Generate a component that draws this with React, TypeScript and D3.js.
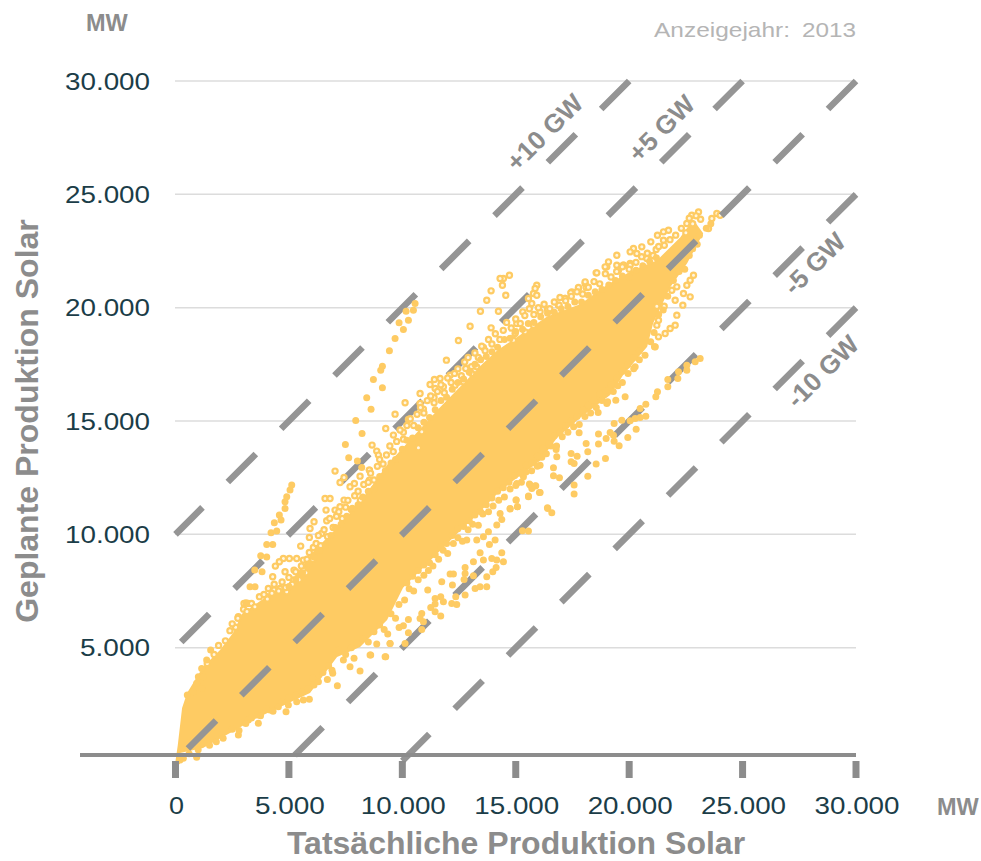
import React from "react";
import * as d3 from "d3";

const yearPrefix = "Anzeigejahr:";
const yearValue = "2013";
const xTitle = "Tatsächliche Produktion Solar";
const yTitle = "Geplante Produktion Solar";
const unit = "MW";
const xTicks = [0, 5000, 10000, 15000, 20000, 25000, 30000];
const yTicks = [5000, 10000, 15000, 20000, 25000, 30000];
const offsetLines = [
  { offset: 10000, label: "+10 GW" },
  { offset: 5000, label: "+5 GW" },
  { offset: -5000, label: "-5 GW" },
  { offset: -10000, label: "-10 GW" },
];

// Dense body of the cloud: outline in MW (actual, planned)
const coreUpper: [number, number][] = [[0,0],[100,700],[290,2340],[510,3000],[1213,4145],[1962,4895],[2536,5645],[2933,6500],[3859,7150],[4917,7700],[6064,9237],[7254,10419],[8445,11851],[9327,13054],[11664,15611],[13561,17552],[14178,18107],[16383,19607],[17838,20148],[19029,21012],[20175,21662],[21234,22094],[22248,23100],[22821,23890]];
const coreLower: [number, number][] = [[23263,23285],[22557,21962],[21808,20903],[21058,19316],[20794,18275],[19736,17034],[19162,16152],[17838,15138],[16824,14256],[16074,13242],[15060,12492],[14310,11919],[13296,10860],[12546,10155],[11355,8964],[10032,7641],[9327,6218],[8136,5027],[7122,4586],[5931,2999],[4608,2381],[3418,1808],[2403,1235],[1213,573],[198,353],[200,-150]];

// Individually legible points (MW)
const upperStreak: [number, number][] = [[5124,12172],[5049,11951],[4904,11656],[4829,11435],[4829,11144],[4578,10849],[4653,10628],[4357,10509],[4212,10068],[4463,10143],[4022,9556],[4287,9556],[3757,9054],[4022,8996],[3493,8423],[3815,8348],[3285,7687],[3506,7687],[3109,6981],[10562,20183],[10488,19889],[10165,19845],[10268,19448],[9856,19330],[10047,19036],[9680,18640],[9430,18096],[9121,17419],[9047,17243],[8724,16831],[9121,16464],[8430,16023],[8621,15523],[7945,15023],[8224,14450],[7489,13965],[7636,13377],[8018,13230],[8210,12951]];
const upperCluster: [number, number][] = [[7034,12789],[7430,12510],[7254,12289],[7695,12098],[7886,12245],[8548,12833],[8136,12568],[8548,12392],[6593,11584],[6813,11584],[6637,11069],[7034,11069],[7254,11216],[7430,11510],[6107,10555],[5931,10260],[5902,9864],[5519,9481],[6666,10599],[6446,10040],[6078,9423],[5637,8864],[5343,8937],[4755,8937],[5020,8937],[4578,8790],[4402,8599],[4829,8350],[5225,8423],[5637,8423],[4285,8129],[5196,7982],[4094,7614],[4343,7541],[4608,7614],[4902,7467],[4020,7247],[2771,6365],[3020,6953],[3212,6953],[14722,21432],[14457,21286],[14310,21286],[14413,20991],[14560,20550],[13913,20742],[13722,20330],[13443,19845],[14237,19845],[12987,19183],[13913,19110],[12473,18551],[13575,18243],[11943,17684],[12796,17316],[12105,17023],[11664,16875],[11414,16831],[11223,16611],[11811,16508],[10782,16214],[11399,16038],[10121,15802],[10782,15773],[10929,15523],[9680,15303],[9268,14670],[10268,15067],[10047,14509],[8665,13936],[8871,13671],[8945,13495],[9606,14377],[8548,12833],[10709,13818],[10856,14524],[15927,20991],[15854,20844],[15780,20624],[15927,20550],[15560,20403],[15707,20183],[15310,19816],[15045,19301],[15413,18933],[15780,19228],[14972,18860],[14898,18566],[13281,17390],[13061,17096],[12693,16728],[12326,16581],[11444,16435],[16074,19816],[16442,19889],[16883,20109],[17177,20403],[17471,20698],[17765,20844],[18059,21065],[18544,21535],[19455,21873],[19749,21873],[20043,21947],[19014,21800]];
const topTip: [number, number][] = [[23057,24226],[22762,24078],[22542,23711],[23865,24152],[23645,23932],[23498,23491],[24012,24078],[21734,23417],[21513,23344],[21248,23197],[20954,22903],[20557,22682],[21513,22976],[21190,22564],[20778,22168],[20190,22609],[20043,22462],[20337,22388],[19455,22315],[19088,22021],[18941,21800],[18573,21535],[19749,21874],[20043,21874],[19529,21653],[18059,21139],[17765,20889],[17426,20653],[18103,20889],[17177,20403],[16912,20110],[16397,19918],[22836,21432],[22689,21212],[22542,20991],[22689,20477],[22395,20624],[22366,20110],[22101,19669],[21542,20065],[21219,20065],[21293,19448],[21219,19228],[22028,19228],[21807,19080],[21587,18860],[21293,18713],[21146,18272],[22028,20330],[22101,20918],[21881,20771]];
const lowerStreak: [number, number][] = [[23130,17757],[22910,17610],[22542,17463],[22542,17243],[22175,17170],[22145,16875],[21704,16831],[21704,16508],[21248,16288],[21175,16067],[20734,15744],[20484,15553],[20734,15214],[20484,15156],[20264,15112],[20043,15009],[19676,15038],[19337,14891],[20308,14641],[19940,14274],[19337,14112],[19558,13906],[19161,14494],[19308,14376],[18647,14421],[18985,14229],[18647,13980],[18103,14009],[18176,13641],[18955,13347],[18544,13098],[17441,13568],[17706,13450],[17441,13201],[17573,13127],[18176,12568],[17573,12171],[17573,11775],[16662,12936],[16662,12583],[16927,12495],[16809,13421],[16780,13744],[17794,14479],[19822,16067],[19411,15920],[19014,15773],[18632,15376],[21116,18272],[20264,17390],[19896,17463],[16074,11848],[15883,12142],[15633,12171],[15707,12024],[15560,11657],[15016,11510],[15074,11216],[14751,11142],[16397,11172],[16589,10951],[16074,13053],[15339,12539],[15045,12245]];
const lowerCluster: [number, number][] = [[16045,11848],[15854,12127],[15604,12216],[15560,11686],[15074,11216],[15016,11510],[14751,11113],[16412,11142],[15295,10158],[15560,10143],[14310,10922],[14384,10657],[14163,10407],[14090,9746],[13796,10114],[13575,9893],[13281,9746],[12840,9746],[13840,9555],[13428,9187],[14384,9187],[13943,8937],[14457,8790],[14163,8864],[13575,8864],[13134,8790],[14134,8540],[13987,8350],[13722,8129],[13722,7688],[13428,7688],[13208,7614],[13134,8173],[12767,8540],[12767,8276],[12722,8002],[12767,7320],[12355,7247],[12208,7761],[11738,7908],[12105,8247],[12252,8247],[11120,7541],[11444,7173],[11693,7247],[11811,7026],[11444,6923],[11252,6776],[11444,6585],[11693,6394],[12399,6909],[12179,6953],[10856,6512],[10782,6291],[10929,6145],[10268,6247],[10047,5968],[9856,5894],[10268,5659],[10856,5806],[10121,5189],[9459,5189],[9356,5601],[8606,4675],[9268,4601]];
const lowEnd: [number, number][] = [[1550,4895],[1374,4454],[1154,4086],[1007,3719],[1227,3719],[933,3425],[1154,3204],[521,2910],[786,3058],[2771,1147],[3653,1661],[3212,1808],[3608,2029],[4167,2249],[4535,2396],[4873,2175],[4976,2469],[5343,2616],[5637,2690],[5902,2719],[6107,3352],[6695,3601],[7136,3322],[8136,3969],[7695,4160],[6931,3866],[7401,4454],[7871,4528],[8577,4674],[9239,4601],[9459,5189],[8871,5160],[933,162],[198,44],[345,118]];
const upperFringe: [number, number][] = [[1400,4300],[1700,4700],[1900,5100],[2200,5300],[2400,5750],[2650,5900],[2750,6300],[2500,6050],[3000,6700],[3150,6600],[3350,6950],[3500,6800],[3700,7250],[3900,7350],[4050,7150],[4250,7400],[4350,7800],[4550,7500],[4700,7900],[4850,7650],[5000,8100],[5150,7800],[5300,8350],[5450,8000],[5550,8600],[5750,8300],[5800,8900],[5900,9200],[6050,8900],[6200,9600],[6300,9950],[6400,9500],[6550,10200],[6700,9900],[6800,10700],[6950,10300],[7100,10800],[7200,11000],[7350,10700],[7500,11200],[7600,11500],[7750,11100],[7900,11700],[8050,11900],[8150,11500],[8300,12200],[8500,12300],[8600,12700],[8750,12400],[8900,13000],[9000,13300],[9150,13100],[9300,13500],[9450,13900],[9600,13650],[9750,14100],[9900,14600],[10050,14200],[10200,14800],[10350,15100],[10500,14800],[10650,15300],[10800,15600],[10950,15350],[11100,15900],[11250,16100],[11400,15800],[11550,16300],[11700,16600],[11850,16250],[12000,16900],[12150,16700],[12300,17100],[12450,17300],[12600,17000],[12750,17600],[12900,17800],[13050,17400],[13200,18000],[13350,17800],[13500,18300],[13650,18100],[13800,18600],[13950,18400],[14100,18850],[14300,18600],[14450,19000],[14600,19350],[14800,19100],[15000,19500],[15200,19300],[15400,19650],[15600,19950],[15800,19700],[16000,20000],[16250,20150],[16500,19950],[16700,20250],[16950,20450],[17200,20300],[17450,20500],[17700,20700],[17950,20600],[18200,20900],[18450,21150],[18700,21050],[18950,21500],[19200,21350],[19450,21600],[19700,21800],[20000,21700],[20300,22000],[20550,22250],[20800,22400],[21050,22300],[21300,22700],[21550,22750],[21800,23000],[22050,23200],[22300,23500],[22500,23300],[22650,23950],[22800,23700],[22950,24050],[23150,23900]];
const upperInner: [number, number][] = [[5000,7700],[5300,8000],[5600,8300],[5900,8700],[6100,9000],[6350,9300],[6600,9500],[6850,9950],[7050,10300],[7300,10450],[7550,10800],[7800,11150],[8050,11300],[8250,11650],[8500,11900],[8750,12000],[9000,12550],[9250,12800],[9500,13150],[9700,13300],[10000,13750],[10200,14150],[10450,14250],[10700,14700],[10950,14950],[11200,15150],[11450,15500],[11700,15900],[11950,16050],[12200,16400],[12450,16700],[12700,16850],[12950,17150],[13200,17500],[13450,17700],[13700,17850],[13950,18050],[14200,18250],[14500,18600],[14750,18650],[15000,18950],[15300,19050],[15550,19300],[15800,19350],[16100,19600],[16400,19750],[16700,19800],[17000,19950],[17300,20050],[17600,20250],[17900,20250],[18200,20550],[18500,20700],[18800,20800],[19100,21000],[19400,21200],[19700,21400],[20000,21350],[20300,21650],[20600,21850],[20900,22050],[21200,22200]];
const lowerFringe: [number, number][] = [[600,320],[1000,500],[1500,700],[1800,850],[2100,1000],[2500,1400],[2800,1350],[3100,1650],[3350,1900],[3750,2000],[4000,2300],[4300,2200],[4700,2600],[5000,2800],[5300,2900],[5600,3050],[5850,3200],[6050,3650],[6300,3500],[6500,3900],[6750,4200],[6900,4000],[7200,4900],[7500,4700],[7750,5000],[8000,5200],[8250,5400],[8500,5250],[8750,5700],[9000,6000],[9200,5800],[9500,6500],[9700,6300],[9850,6900],[10100,7100],[10300,7600],[10500,7500],[10700,8000],[10950,8200],[11150,8400],[11350,8600],[11600,8900],[11800,9300],[12000,9150],[12250,9600],[12450,9850],[12650,9700],[12900,10200],[13100,10450],[13350,10400],[13550,10900],[13800,11000],[14000,11250],[14250,11500],[14500,11650],[14750,12000],[15000,12150],[15250,12300],[15450,12750],[15700,12800],[15950,13000],[16150,13400],[16350,13550],[16550,13900],[16800,13900],[17050,14300],[17300,14500],[17550,14750],[17800,14850],[18050,15200],[18300,15350],[18550,15600],[18800,15900],[19050,15850],[19300,16300],[19500,16550],[19700,16700],[19950,17100],[20200,17300],[20450,17700],[20700,17900],[20950,18500],[21100,18900],[21300,19700],[21500,19900],[21700,20500],[21950,21200],[22200,21600],[22450,21700],[22650,22300],[22800,22600],[23000,22800],[23100,23200],[23400,23500],[23600,23700]];
const lowerInner: [number, number][] = [[10200,7850],[10450,8150],[10700,8400],[10950,8650],[11200,8750],[11450,9100],[11700,9450],[11950,9600],[12200,9950],[12450,10250],[12700,10350],[12950,10600],[13200,10850],[13450,11000],[13700,11300],[13950,11600],[14200,11900],[14450,12050],[14700,12300],[14950,12600],[15200,12700],[15450,13050],[15700,13150],[15950,13450],[16200,13800],[16450,14000],[16700,14350],[16950,14500],[17200,14800],[17450,15000],[17700,15200],[17950,15500],[18200,15700],[18450,15900],[18700,16200],[18950,16350],[19200,16600],[19450,16900],[19700,17200],[19950,17500],[20200,17800],[20450,18100]];
const solidPoints = [...upperStreak, ...lowerStreak, ...lowerCluster, ...lowEnd, ...lowerFringe, ...lowerInner, ...upperInner];
const ringPoints = [...upperCluster, ...topTip, ...upperFringe];

const x = d3.scaleLinear().domain([0, 30000]).range([175.5, 856]);
const y = d3.scaleLinear().domain([0, 30000]).range([761, 81]);
const fmt = (v: number) => (v === 0 ? "0" : d3.format(",")(v).replace(",", "."));
const outline = d3.line<[number, number]>().x((d) => x(d[0])).y((d) => y(d[1]));

const GREY = "#8c8c8c";
const TEAL = "#1b3d48";
const ORANGE = "#fecb63";
const SANS = "'Liberation Sans', Arial, sans-serif";
const DASH = "39.6 35.8";

// Line drawn from its upper end so that the dash pattern starts there
function diagonal(offset: number) {
  const top: [number, number] = offset >= 0 ? [30000 - offset, 30000] : [30000, 30000 + offset];
  const bottom: [number, number] = offset >= 0 ? [0, offset] : [-offset, 0];
  return outline([top, bottom]) as string;
}

const labelPos: Record<string, [number, number]> = {
  "+10 GW": [546, 134],
  "+5 GW": [663, 130],
  "-5 GW": [816, 265],
  "-10 GW": [824, 373],
};

export default function App() {
  return (
    <svg width={981} height={861} style={{ position: "absolute", left: 0, top: 0 }} fontFamily={SANS}>
      {yTicks.map((t) => (
        <line key={t} x1={175} x2={856} y1={y(t)} y2={y(t)} stroke="#dcdcdc" strokeWidth={1.5} />
      ))}
      {offsetLines.map((l) => (
        <path key={l.label} d={diagonal(l.offset)} fill="none" stroke="#959595" strokeWidth={6.5} strokeDasharray={DASH} />
      ))}
      <path d={outline([...coreUpper, ...coreLower]) + "Z"} fill={ORANGE} />
      {ringPoints.map((p, i) => (
        <circle key={i} cx={x(p[0])} cy={y(p[1])} r={2.6} fill="#fff6e0" stroke={ORANGE} strokeWidth={2.2} />
      ))}
      {solidPoints.map((p, i) => (
        <circle key={i} cx={x(p[0])} cy={y(p[1])} r={3.5} fill={ORANGE} />
      ))}
      <path d={diagonal(0)} fill="none" stroke="#959595" strokeWidth={6.5} strokeDasharray={DASH} />
      <line x1={80} x2={856} y1={755} y2={755} stroke={GREY} strokeWidth={4} />
      {xTicks.map((t) => (
        <g key={t}>
          <line x1={x(t)} x2={x(t)} y1={761} y2={778} stroke={GREY} strokeWidth={7} />
          <text x={x(t) + 1} y={814} textAnchor="middle" fontSize={23} fill={TEAL}
            textLength={t === 0 ? 15 : t < 10000 ? 70 : 85} lengthAdjust="spacingAndGlyphs">{fmt(t)}</text>
        </g>
      ))}
      {yTicks.map((t) => (
        <text key={t} x={150} y={y(t) + 8.5} textAnchor="end" fontSize={23} fill={TEAL}
          textLength={t < 10000 ? 70 : 85} lengthAdjust="spacingAndGlyphs">{fmt(t)}</text>
      ))}
      {offsetLines.map((l) => {
        const [cx, cy] = labelPos[l.label];
        return (
          <text key={l.label} transform={`translate(${cx},${cy}) rotate(-45)`} textAnchor="middle" dominantBaseline="middle"
            fontSize={26} fontWeight="bold" fill={GREY}>{l.label}</text>
        );
      })}
      <text x={86} y={31} fontSize={23.5} fontWeight="bold" fill={GREY}>{unit}</text>
      <text x={937} y={815} fontSize={23.5} fontWeight="bold" fill={GREY}>{unit}</text>
      <text x={654} y={37} fontSize={21} fill="#b5b5b5" textLength={136} lengthAdjust="spacingAndGlyphs">{yearPrefix}</text>
      <text x={802} y={37} fontSize={21} fill="#b5b5b5" textLength={54} lengthAdjust="spacingAndGlyphs">{yearValue}</text>
      <text x={516} y={854} textAnchor="middle" fontSize={32} fontWeight="bold" fill={GREY}>{xTitle}</text>
      <text transform="translate(38,421) rotate(-90)" textAnchor="middle" fontSize={32} fontWeight="bold" fill={GREY}>{yTitle}</text>
    </svg>
  );
}
